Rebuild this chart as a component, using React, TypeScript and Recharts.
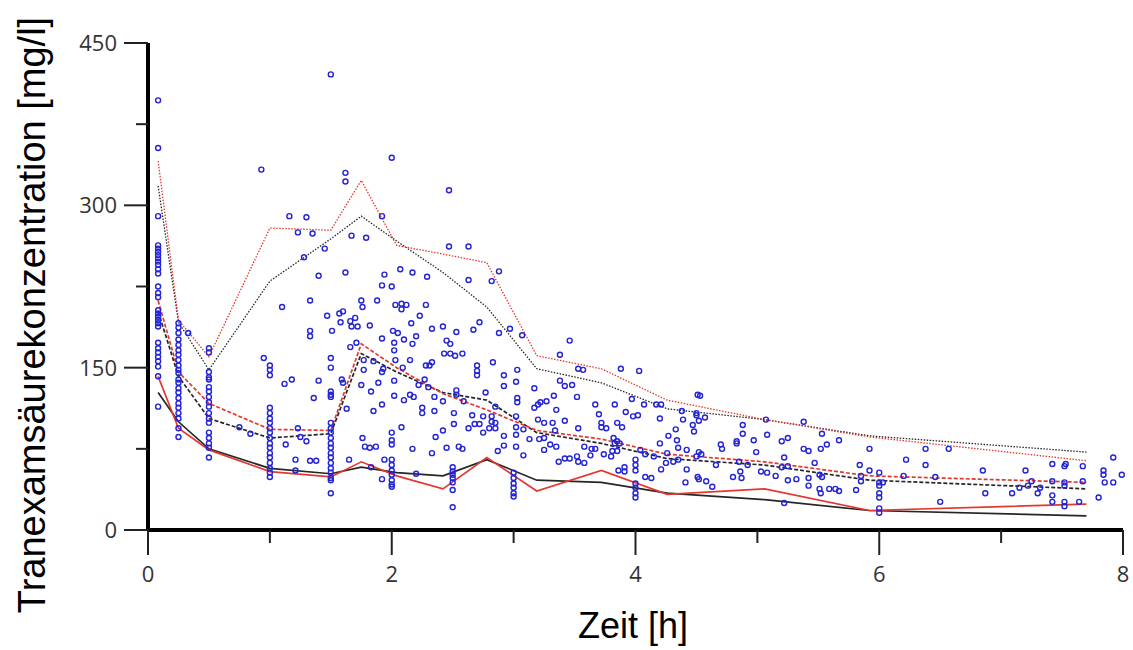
import React from 'react';
import { ComposedChart, XAxis, YAxis, Line, Scatter } from 'recharts';

// time bins of the percentile lines [h]
const binTimes = [0.083, 0.25, 0.5, 1.0, 1.5, 1.75, 2.04, 2.42, 2.78, 3.19, 3.72, 4.26, 5.06, 5.92, 7.7];

// observed (red) and simulated (black) percentiles [mg/l]
const obsP95 = [341, 194, 160, 279, 277, 323, 263, 255, 247, 161, 149, 120, 102, 86, 64];
const simP95 = [318, 192, 148, 230, 269, 290, 267, 238, 206, 149, 136, 112, 102, 87, 72];
const obsP50 = [212, 146, 117, 93, 92, 172, 150, 126, 111, 92, 84, 70, 63, 50, 44];
const simP50 = [202, 142, 103, 85, 89, 163, 146, 127, 120, 90, 80, 66, 60, 46, 38];
const obsP05 = [142, 94, 74, 54, 49, 63, 50, 38, 67, 36, 55, 33, 38, 18, 24];
const simP05 = [127, 100, 75, 57, 52, 58, 53, 50, 65, 46, 44, 34, 28, 18, 13];

// observations at the nominal sampling times
const nominalTimes = [0.083, 0.25, 0.5, 1.0, 1.5, 2.0, 2.5, 3.0, 4.0, 6.0];
const nominalConc = [
  [397, 353, 290, 263, 260, 257, 254, 251, 248, 245, 241, 237, 225, 219, 215, 203, 200, 197, 194, 191, 188, 173, 168, 164, 160, 156, 151, 142, 114],
  [191, 187, 182, 176, 171, 166, 162, 157, 152, 148, 145, 139, 136, 131, 127, 122, 117, 113, 108, 103, 94, 86],
  [168, 164, 146, 141, 139, 132, 128, 123, 118, 114, 108, 103, 99, 90, 85, 80, 76, 67],
  [152, 148, 143, 113, 108, 103, 99, 94, 90, 85, 80, 76, 71, 67, 62, 57, 53, 49],
  [421, 159, 150, 128, 125, 123, 99, 94, 90, 85, 80, 76, 71, 67, 62, 57, 53, 48, 46, 34],
  [90, 83, 79, 65, 60, 55, 51, 46, 42, 40],
  [58, 54, 51, 48, 44, 37, 21],
  [53, 48, 43, 39, 34, 31],
  [65, 60, 55, 43, 39, 34, 30],
  [53, 44, 41, 34, 30, 20, 16],
];

// observations at other times [h, mg/l]
const otherObs = [
  [0.33,182],[0.75,95],[0.84,89],[0.93,333],[0.95,159],[1.10,206],[1.12,135],[1.13,79],[1.16,290],[1.18,139],
  [1.21,65],[1.21,55],[1.23,275],[1.23,94],[1.25,86],[1.28,252],[1.30,289],[1.30,82],[1.33,212],[1.33,184],
  [1.33,179],[1.33,64],[1.35,274],[1.36,122],[1.38,64],[1.40,235],[1.40,138],[1.45,260],[1.47,198],[1.51,184],
  [1.57,200],[1.58,192],[1.59,139],[1.60,202],[1.60,136],[1.62,330],[1.62,322],[1.62,238],[1.63,112],[1.65,65],
  [1.66,193],[1.66,169],[1.67,272],[1.67,188],[1.70,196],[1.71,173],[1.72,188],[1.75,212],[1.75,134],[1.76,206],
  [1.76,85],[1.77,148],[1.77,157],[1.78,77],[1.79,270],[1.82,189],[1.82,76],[1.83,128],[1.83,58],[1.85,156],
  [1.85,110],[1.87,77],[1.88,212],[1.89,136],[1.92,290],[1.92,226],[1.92,177],[1.92,146],[1.92,116],[1.92,47],
  [1.93,149],[1.94,236],[1.94,65],[2.0,344],[2.0,225],[2.01,184],[2.02,173],[2.02,166],[2.02,138],[2.02,124],
  [2.03,208],[2.03,157],[2.05,182],[2.07,241],[2.08,209],[2.08,204],[2.08,95],[2.09,150],[2.10,176],[2.10,120],
  [2.12,208],[2.15,157],[2.15,125],[2.16,191],[2.17,238],[2.17,172],[2.17,75],[2.18,123],[2.20,179],[2.20,52],
  [2.22,134],[2.23,198],[2.25,113],[2.25,108],[2.27,139],[2.28,208],[2.28,152],[2.29,234],[2.30,132],[2.31,152],
  [2.33,186],[2.33,155],[2.33,71],[2.35,123],[2.35,110],[2.36,86],[2.42,188],[2.42,119],[2.42,92],[2.43,163],
  [2.45,175],[2.45,76],[2.47,314],[2.47,262],[2.48,172],[2.48,163],[2.51,108],[2.51,98],[2.52,161],[2.53,183],
  [2.53,129],[2.53,125],[2.55,77],[2.58,163],[2.58,75],[2.59,119],[2.63,262],[2.63,231],[2.63,94],[2.66,106],
  [2.67,185],[2.68,98],[2.70,152],[2.70,147],[2.70,143],[2.72,192],[2.72,98],[2.75,105],[2.75,90],[2.77,127],
  [2.80,94],[2.82,230],[2.82,105],[2.82,100],[2.83,155],[2.85,94],[2.85,99],[2.85,114],[2.87,73],[2.88,239],
  [2.88,182],[2.92,143],[2.92,133],[2.92,87],[2.92,78],[2.97,186],[3.02,137],[3.02,105],[3.02,95],[3.02,88],
  [3.02,77],[3.03,148],[3.03,122],[3.03,118],[3.07,180],[3.08,93],[3.08,69],[3.13,84],[3.17,131],[3.17,113],
  [3.20,116],[3.20,102],[3.21,84],[3.22,118],[3.25,99],[3.25,85],[3.25,74],[3.27,119],[3.30,79],[3.32,99],
  [3.33,124],[3.34,92],[3.35,77],[3.35,111],[3.37,63],[3.38,162],[3.38,138],[3.42,133],[3.42,101],[3.42,66],
  [3.46,175],[3.46,66],[3.48,134],[3.52,123],[3.52,68],[3.53,149],[3.53,94],[3.53,63],[3.57,148],[3.58,77],
  [3.58,62],[3.63,69],[3.64,75],[3.67,75],[3.67,116],[3.70,107],[3.72,99],[3.72,95],[3.74,70],[3.76,94],
  [3.80,68],[3.81,73],[3.82,85],[3.83,116],[3.83,80],[3.85,99],[3.85,82],[3.85,73],[3.86,55],[3.87,80],
  [3.88,149],[3.89,95],[3.91,58],[3.91,54],[3.92,109],[3.97,121],[3.98,105],[4.02,106],[4.03,147],[4.04,74],
  [4.07,116],[4.08,70],[4.08,49],[4.13,48],[4.15,68],[4.17,116],[4.20,103],[4.20,80],[4.21,116],[4.21,56],
  [4.25,62],[4.26,71],[4.27,87],[4.31,63],[4.33,93],[4.34,83],[4.35,76],[4.35,65],[4.38,110],[4.39,102],
  [4.41,44],[4.42,74],[4.42,56],[4.47,97],[4.48,91],[4.50,108],[4.50,106],[4.50,68],[4.51,125],[4.51,49],
  [4.52,101],[4.52,72],[4.52,47],[4.53,124],[4.54,70],[4.57,104],[4.58,45],[4.63,40],[4.66,60],[4.70,79],
  [4.71,75],[4.80,49],[4.83,82],[4.83,80],[4.85,63],[4.86,54],[4.87,48],[4.88,97],[4.88,89],[4.92,60],
  [4.97,83],[4.99,72],[5.03,54],[5.07,102],[5.08,88],[5.08,53],[5.15,50],[5.20,82],[5.20,58],[5.22,67],
  [5.22,25],[5.25,85],[5.25,59],[5.25,46],[5.32,47],[5.38,100],[5.38,75],[5.42,73],[5.42,48],[5.42,41],
  [5.47,62],[5.51,51],[5.51,38],[5.52,75],[5.52,34],[5.53,49],[5.53,89],[5.57,79],[5.59,38],[5.64,38],
  [5.67,36],[5.67,83],[5.81,37],[5.84,60],[5.85,50],[5.85,45],[5.92,75],[5.92,55],[6.03,44],[6.20,50],
  [6.22,65],[6.38,75],[6.38,60],[6.46,49],[6.50,26],[6.57,75],[6.85,55],[6.87,34],[7.09,34],[7.15,39],
  [7.20,55],[7.22,41],[7.25,45],[7.30,34],[7.32,39],[7.42,61],[7.42,45],[7.42,32],[7.42,26],[7.52,59],
  [7.53,61],[7.52,41],[7.52,44],[7.52,26],[7.52,22],[7.64,26],[7.67,59],[7.67,45],[7.80,30],[7.84,55],
  [7.84,51],[7.85,44],[7.92,67],[7.92,44],[7.99,51],
];

const xTicks = [0, 1, 2, 3, 4, 5, 6, 7, 8];
const yTicks = [0, 75, 150, 225, 300, 375, 450];

const RED = '#e3382f';
const BLACK = '#262626';
const BLUE = '#2424d6';

const lineRows = binTimes.map((t, i) => ({
  t,
  obsP95: obsP95[i],
  simP95: simP95[i],
  obsP50: obsP50[i],
  simP50: simP50[i],
  obsP05: obsP05[i],
  simP05: simP05[i],
}));

const points = [
  ...nominalTimes.flatMap((t, i) => nominalConc[i].map(c => ({ t, c }))),
  ...otherObs.map(([t, c]) => ({ t, c })),
];

const XTick = (props: any) => {
  const { x, y, payload } = props;
  const major = payload.value % 2 === 0;
  return (
    <g>
      <line x1={x} x2={x} y1={y} y2={y + (major ? 25 : 13)} stroke="#222" strokeWidth={2} />
      {major && (
        <text x={x} y={y + 52} textAnchor="middle" fontSize={22} fill="#333" fontFamily="'Open Sans', sans-serif">
          {payload.value}
        </text>
      )}
    </g>
  );
};

const YTick = (props: any) => {
  const { x, y, payload } = props;
  const major = payload.value % 150 === 0;
  return (
    <g>
      <line x1={x - (major ? 24 : 12)} x2={x} y1={y} y2={y} stroke="#222" strokeWidth={2} />
      {major && (
        <text x={x - 31} y={y + 8} textAnchor="end" fontSize={22} fill="#333" fontFamily="'Open Sans', sans-serif">
          {payload.value}
        </text>
      )}
    </g>
  );
};

const Ring = (props: any) => (
  <circle cx={props.cx} cy={props.cy} r={2.5} fill="none" stroke={BLUE} strokeWidth={1.4} />
);

export default function App() {
  return (
    <div style={{ position: 'absolute', left: 0, top: 0, width: 1133, height: 650, background: '#fff', overflow: 'hidden' }}>
      <ComposedChart width={1133} height={650} margin={{ top: 43, right: 10, bottom: 80, left: 0 }}>
        <XAxis
          type="number"
          dataKey="t"
          domain={[0, 8]}
          ticks={xTicks}
          interval={0}
          height={40}
          tickSize={0}
          tickMargin={0}
          tickLine={false}
          axisLine={{ stroke: '#000', strokeWidth: 4 }}
          tick={<XTick />}
        />
        <YAxis
          type="number"
          domain={[0, 450]}
          ticks={yTicks}
          interval={0}
          width={148}
          tickSize={0}
          tickMargin={0}
          tickLine={false}
          axisLine={{ stroke: '#000', strokeWidth: 4 }}
          tick={<YTick />}
        />
        <Scatter data={points} dataKey="c" shape={<Ring />} isAnimationActive={false} />
        <Line data={lineRows} dataKey="simP95" type="linear" stroke={BLACK} strokeWidth={1.3} strokeDasharray="1.5 1.5" dot={false} isAnimationActive={false} />
        <Line data={lineRows} dataKey="obsP95" type="linear" stroke={RED} strokeWidth={1.3} strokeDasharray="1.5 1.5" dot={false} isAnimationActive={false} />
        <Line data={lineRows} dataKey="simP50" type="linear" stroke={BLACK} strokeWidth={1.7} strokeDasharray="4 2" dot={false} isAnimationActive={false} />
        <Line data={lineRows} dataKey="obsP50" type="linear" stroke={RED} strokeWidth={1.7} strokeDasharray="4 2" dot={false} isAnimationActive={false} />
        <Line data={lineRows} dataKey="simP05" type="linear" stroke={BLACK} strokeWidth={1.7} dot={false} isAnimationActive={false} />
        <Line data={lineRows} dataKey="obsP05" type="linear" stroke={RED} strokeWidth={1.7} dot={false} isAnimationActive={false} />
      </ComposedChart>
      <svg width={1133} height={650} style={{ position: 'absolute', left: 0, top: 0, pointerEvents: 'none' }}>
        <text
          transform="translate(45, 315) rotate(-90)"
          textAnchor="middle"
          fontSize={38}
          fill="#000"
          fontFamily="'Liberation Sans', Arial, sans-serif"
        >
          Tranexamsäurekonzentration [mg/l]
        </text>
        <text x={633} y={638} textAnchor="middle" fontSize={36} fill="#000" fontFamily="'Liberation Sans', Arial, sans-serif">
          Zeit [h]
        </text>
      </svg>
    </div>
  );
}
